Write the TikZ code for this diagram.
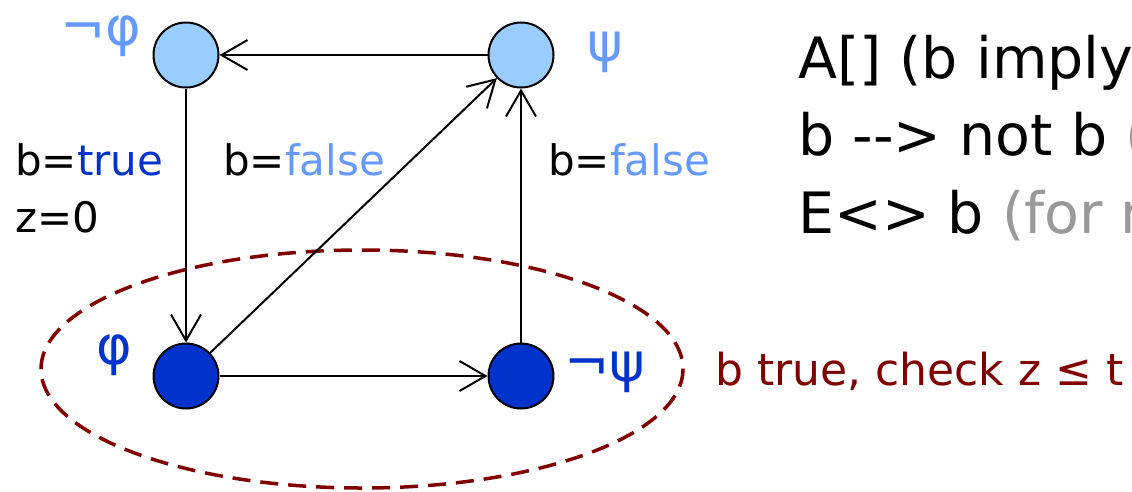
\documentclass[tikz,border=0pt]{standalone}
\usepackage{fontspec}
\setmainfont{DejaVu Sans}
\usetikzlibrary{arrows.meta}
\definecolor{lblue}{HTML}{6699FF}
\definecolor{nfill}{HTML}{99CCFF}
\definecolor{dblue}{HTML}{0033CC}
\definecolor{dred}{HTML}{800000}
\definecolor{tgray}{HTML}{999999}
\begin{document}
\begin{tikzpicture}[x=1pt,y=-1pt,
  state/.style={circle,draw=black,line width=2pt,minimum size=65pt,inner sep=0pt},
  lightstate/.style={state,fill=nfill},
  darkstate/.style={state,fill=dblue},
  edge/.style={line width=2pt,-{Straight Barb[length=26pt,width=30pt,line width=2pt]}},
  lbl/.style={inner sep=0pt,anchor=base west,font=\fontsize{42}{50}\selectfont},
  big/.style={inner sep=0pt,anchor=base west,font=\fontsize{57}{68}\selectfont},
  greek/.style={inner sep=0pt,font=\fontsize{54}{60}\selectfont},
  region/.style={draw=dred,line width=3.5pt,dash pattern=on 18pt off 10pt},
]
\useasboundingbox (0,0) rectangle (1132,491);
\clip (0,0) rectangle (1132,491);

% dashed region
\draw[region] (362,369) ellipse [x radius=321, y radius=119];

% states
\node[lightstate] (nphi) at (186,55) {};
\node[lightstate] (psi)  at (521,55) {};
\node[darkstate]  (phi)  at (186,376) {};
\node[darkstate]  (npsi) at (521,376) {};

% state labels
\node[greek,text=lblue] (lnphi) at (101,36) {¬φ};
\node[greek,text=lblue] (lpsi)  at (605,52) {ψ};
\node[greek,text=dblue] (lphi)  at (114,355) {φ};
\node[greek,text=dblue] (lnpsi) at (605,372) {¬ψ};

% transitions
\draw[edge] (psi) -- (nphi);
\draw[edge] (nphi) -- (phi);
\draw[edge] (phi) -- (psi);
\draw[edge] (npsi) -- (psi);
\draw[edge] (phi) -- (npsi);

% transition labels
\node[lbl] (g1) at (15,175) {b=\textcolor{dblue}{true}};
\node[lbl] (g2) at (15,232) {z=0};
\node[lbl] (g3) at (223,175) {b=\textcolor{lblue}{false}};
\node[lbl] (g4) at (548,175) {b=\textcolor{lblue}{false}};

% region note
\node[inner sep=0pt,anchor=base west,text=dred,font=\fontsize{44}{52}\selectfont] (note) at (715,385) {b true, check z ≤ t};

% queries
\node[big] (q1) at (798,78) {A[] (b imply};
\node[big] (q2) at (798,155) {b {-}{-}> not b \textcolor{tgray}{(}};
\node[big] (q3) at (798,233) {E<> b \textcolor{tgray}{(for m}};
\end{tikzpicture}
\end{document}
